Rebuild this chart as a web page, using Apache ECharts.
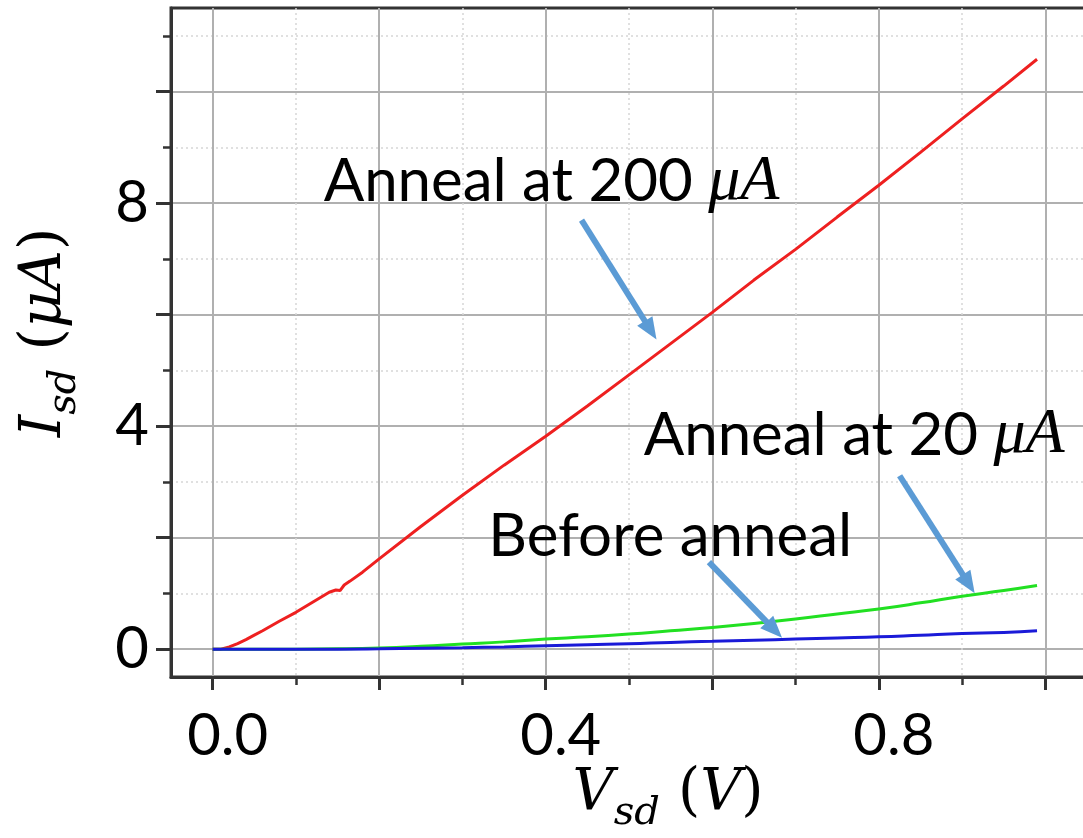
<!DOCTYPE html>
<html><head><meta charset="utf-8">
<script src="https://cdn.jsdelivr.net/npm/echarts@6/dist/echarts.min.js"></script>
<style>html,body{margin:0;padding:0;background:#fff}#c{width:1083px;height:838px}</style>
</head><body><div id="c"></div>
<script>
// ---- data ----
const xMajorTicks = [0, 0.2, 0.4, 0.6, 0.8, 1.0];
const xTickLabels = [0, 0.4, 0.8];
const yMajorTicks = [0, 2, 4, 6, 8, 10];
const yTickLabels = [0, 4, 8];

const redV = [0, 0.01, 0.02, 0.03, 0.04, 0.05, 0.06, 0.08, 0.1, 0.12, 0.14, 0.148, 0.153, 0.158, 0.165, 0.18, 0.2, 0.25, 0.3, 0.35, 0.4, 0.45, 0.5, 0.55, 0.6, 0.65, 0.7, 0.75, 0.8, 0.85, 0.9, 0.95, 0.99];
const redI = [0, 0.0, 0.04, 0.1, 0.17, 0.25, 0.33, 0.5, 0.66, 0.84, 1.02, 1.06, 1.05, 1.15, 1.22, 1.38, 1.62, 2.2, 2.76, 3.3, 3.82, 4.36, 4.92, 5.48, 6.04, 6.62, 7.17, 7.75, 8.32, 8.91, 9.51, 10.1, 10.58];

const greenV = [0, 0.1, 0.15, 0.2, 0.25, 0.3, 0.35, 0.4, 0.45, 0.5, 0.55, 0.6, 0.65, 0.7, 0.75, 0.8, 0.85, 0.9, 0.95, 0.99];
const greenI = [0, 0, 0.005, 0.02, 0.05, 0.09, 0.13, 0.18, 0.22, 0.27, 0.33, 0.39, 0.46, 0.54, 0.63, 0.72, 0.83, 0.95, 1.05, 1.14];

const blueV = [0, 0.1, 0.15, 0.2, 0.25, 0.3, 0.35, 0.4, 0.45, 0.5, 0.55, 0.6, 0.65, 0.7, 0.75, 0.8, 0.85, 0.9, 0.95, 0.99];
const blueI = [0, 0, 0, 0.005, 0.015, 0.025, 0.04, 0.06, 0.08, 0.095, 0.12, 0.14, 0.16, 0.18, 0.2, 0.22, 0.25, 0.28, 0.3, 0.33];

const annotTexts = ['Anneal at 200 ', 'Anneal at 20 ', 'Before anneal'];
const annotUnits = ['μA', 'μA', ''];

// ---- layout (annotation anchors & arrows, in data coordinates) ----
const annotAnchors = [[0.1327, 8.38], [0.517, 3.83], [0.3305, 2.01]];
const arrows = [
  [[0.443, 7.695], [0.526, 5.72]],
  [[0.825, 3.11], [0.908, 1.17]],
  [[0.596, 1.56], [0.6746, 0.345]]
];

const zip = (a, b) => a.map((v, i) => [v, b[i]]);
const SANS = 'Lato';
const SERIF = 'DejaVu Serif';

const nameRich = {
  i: {fontFamily: SERIF, fontStyle: 'italic', fontSize: 57, lineHeight: 58, color: '#000'},
  s: {fontFamily: SERIF, fontStyle: 'italic', fontSize: 40, lineHeight: 41, padding: [40, 0, 0, 0], color: '#000'},
  p: {fontFamily: SERIF, fontSize: 57, lineHeight: 58, color: '#000'}
};
const annotRich = {
  n: {fontFamily: SANS, fontSize: 60, color: '#000'},
  m: {fontFamily: 'Liberation Serif', fontStyle: 'italic', fontSize: 64, color: '#000'}
};

const axisCommon = {
  type: 'value',
  nameMoveOverlap: false,
  axisLine: {show: true, onZero: false, lineStyle: {color: '#333', width: 3}},
  minorTick: {show: true, splitNumber: 2, length: 8, lineStyle: {color: '#333', width: 2.5}},
  splitLine: {show: true, lineStyle: {color: '#b0b0b0', width: 2}},
  minorSplitLine: {show: true, lineStyle: {color: '#d6d6d6', width: 1.5, type: [2, 3]}}
};

const chart = echarts.init(document.getElementById('c'), null, {renderer: 'canvas'});
chart.setOption({
  animation: false,
  backgroundColor: '#fff',
  grid: {left: 171, top: 8, right: -4, bottom: 161, show: true, borderColor: '#333', borderWidth: 3,
    backgroundColor: 'transparent', containLabel: false, outerBoundsMode: 'none'},
  xAxis: Object.assign({}, axisCommon, {
    min: -0.05, max: 1.05, splitNumber: 5,
    axisTick: {show: true, customValues: xMajorTicks, length: 13, lineStyle: {color: '#333', width: 3}},
    axisLabel: {customValues: xTickLabels, formatter: v => v.toFixed(1), fontFamily: SANS, fontSize: 58, color: '#000', margin: 30, padding: [0, 0, 0, 30]},
    name: '{i|V}{s|sd}{p| (}{i|V}{p|)}',
    nameLocation: 'middle', nameGap: 88,
    nameTextStyle: {rich: nameRich, padding: [0, 0, 0, 78]}
  }),
  yAxis: Object.assign({}, axisCommon, {
    min: -0.5, max: 11.5, splitNumber: 6,
    axisTick: {show: true, customValues: yMajorTicks, length: 15, lineStyle: {color: '#333', width: 3}},
    axisLabel: {customValues: yTickLabels, fontFamily: SANS, fontSize: 58, color: '#000', margin: 22},
    name: '{i|I}{s|sd}{p| (}{i|μA}{p|)}',
    nameLocation: 'middle', nameRotate: 90, nameGap: 97,
    nameTextStyle: {rich: nameRich, padding: [0, 0, 0, 20]}
  }),
  series: [
    {type: 'line', data: zip(redV, redI), showSymbol: false, lineStyle: {color: '#ee2020', width: 3}, z: 3},
    {type: 'line', data: zip(greenV, greenI), showSymbol: false, smooth: true, lineStyle: {color: '#22e022', width: 3}, z: 3},
    {type: 'line', data: zip(blueV, blueI), showSymbol: false, smooth: true, lineStyle: {color: '#1a1ad8', width: 3}, z: 4,
      markPoint: {
        symbol: 'circle', symbolSize: 1, itemStyle: {color: 'rgba(0,0,0,0)'},
        label: {show: true, position: 'right', distance: 0, rich: annotRich},
        data: annotTexts.map((t, i) => ({
          coord: annotAnchors[i],
          label: {formatter: '{n|' + t + '}' + (annotUnits[i] ? '{m|' + annotUnits[i] + '}' : '')}
        }))
      },
      markLine: {
        silent: true, symbol: ['none', 'triangle'], symbolSize: [18, 22],
        label: {show: false},
        lineStyle: {color: '#5b9bd5', width: 6, type: 'solid'},
        emphasis: {disabled: true},
        data: arrows.map(a => [{coord: a[0]}, {coord: a[1]}])
      }
    }
  ]
});
</script>
</body></html>
